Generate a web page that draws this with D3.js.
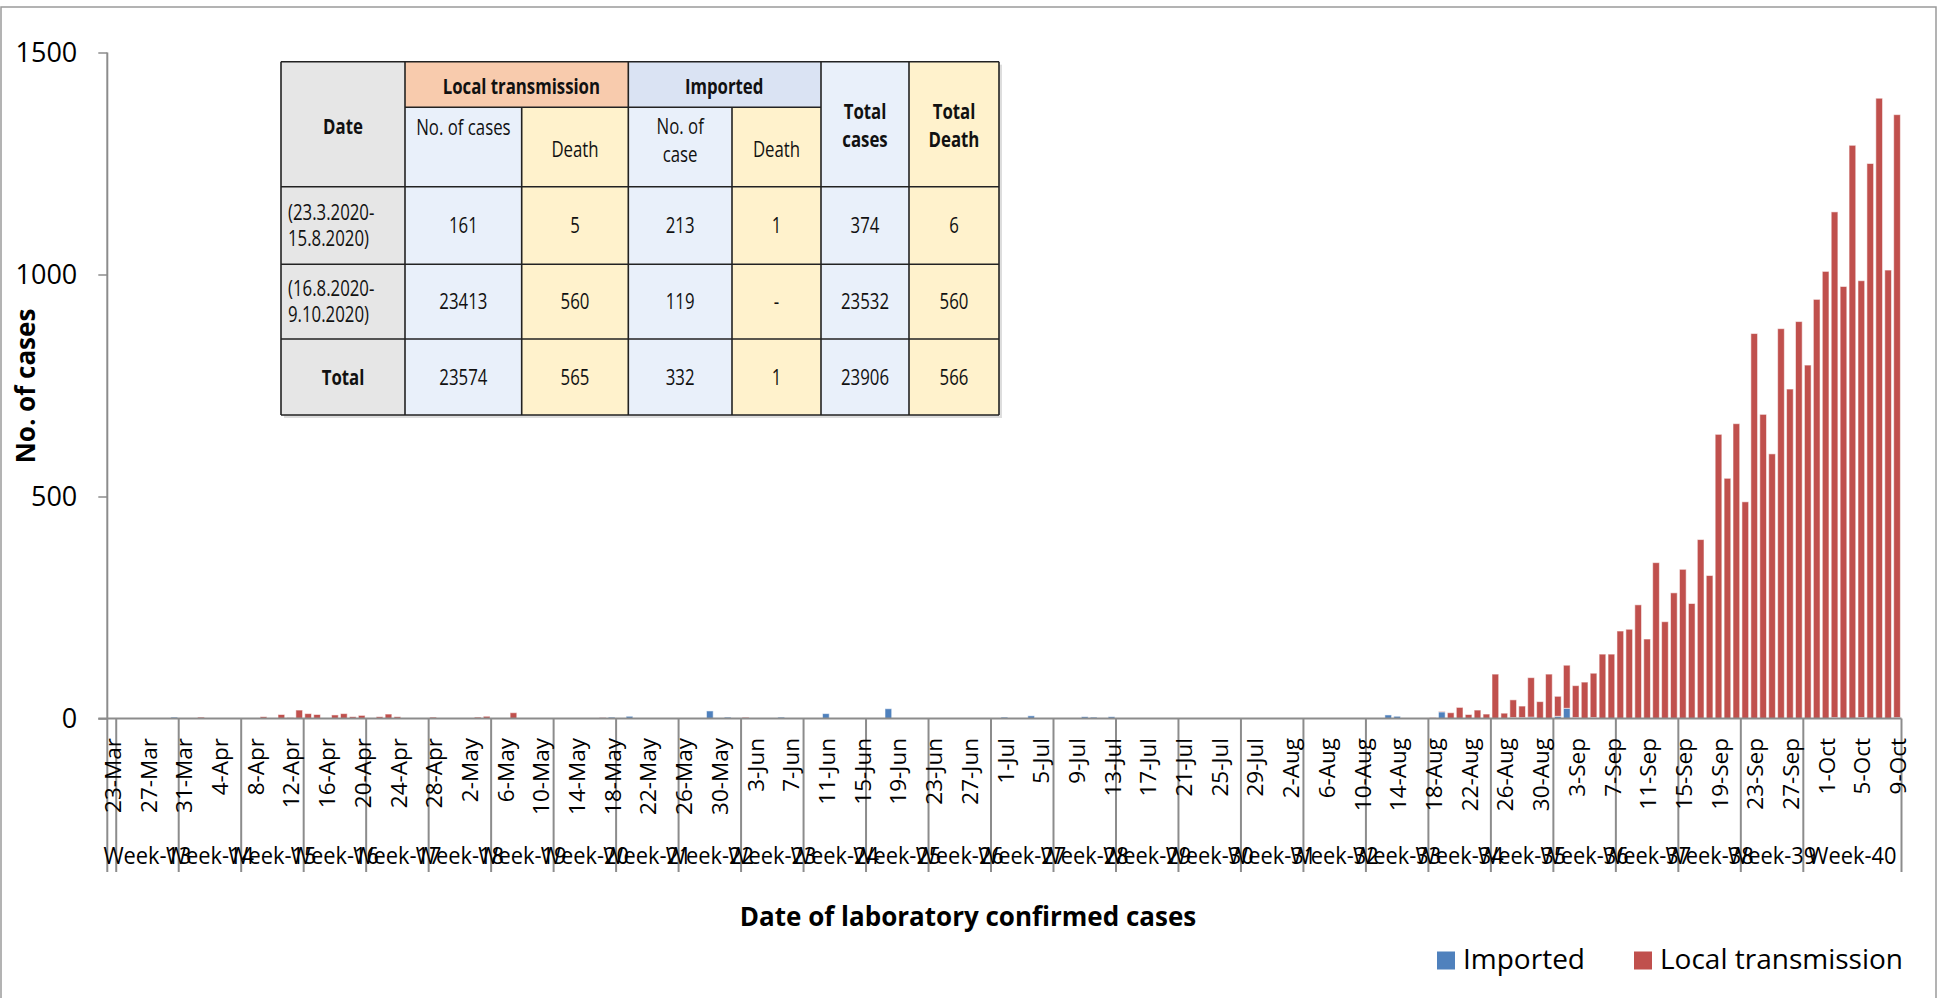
<!DOCTYPE html>
<html>
<head>
<meta charset="utf-8">
<script src="https://cdnjs.cloudflare.com/ajax/libs/d3/7.8.5/d3.min.js"></script>
<style>
  html, body { margin: 0; padding: 0; background: #fff; }
  svg { display: block; }
  .tbl text { font-family: 'Open Sans', 'Liberation Sans', sans-serif; font-size: 21px; fill: #111; }
</style>
</head>
<body>
<svg id="chart" width="1940" height="998"></svg>
<script>
// ---- data ----
const startDay = new Date(2020, 2, 23);   // 23-Mar-2020
const endDay = new Date(2020, 9, 10);     // exclusive: last bar 9-Oct
const days = d3.timeDay.range(startDay, endDay);

// week groups on the outer axis level (first group is a lone 23-Mar)
const weekLabels = ['', 'Week-13', 'Week-14', 'Week-15', 'Week-16', 'Week-17', 'Week-18', 'Week-19',
  'Week-20', 'Week-21', 'Week-22', 'Week-23', 'Week-24', 'Week-25', 'Week-26', 'Week-27',
  'Week-28', 'Week-29', 'Week-30', 'Week-31', 'Week-32', 'Week-33', 'Week-34', 'Week-35',
  'Week-36', 'Week-37', 'Week-38', 'Week-39', 'Week-40'];
const weekLengths = [1, 7, 7, 7, 7, 7, 7, 7, 7, 7, 7, 7, 7, 7, 7, 7, 7, 7, 7, 7, 7, 7, 7, 7, 7, 7, 7, 7, 11];

// daily cases, one value per day from 23-Mar to 9-Oct
const imported = [
  0, 0, 0, 1, 0, 0, 1, 3, 0, 0,      // 23-Mar .. 1-Apr
  0, 0, 0, 0, 0, 0, 0, 0, 0, 0,
  0, 0, 0, 0, 0, 0, 0, 0, 0, 0,
  0, 0, 0, 0, 0, 0, 0, 0, 0, 0,
  0, 0, 0, 0, 0, 0, 0, 0, 0, 0,      // .. 11-May
  0, 0, 0, 0, 0, 2, 3, 0, 5, 0,
  1, 0, 0, 1, 1, 0, 0, 17, 0, 3,
  0, 1, 0, 1, 0, 3, 1, 0, 0, 1,
  11, 0, 0, 0, 0, 0, 0, 22, 0, 0,
  1, 0, 0, 0, 0, 0, 1, 1, 0, 0,      // .. 30-Jun
  3, 0, 0, 6, 0, 1, 0, 1, 1, 4,
  3, 0, 4, 0, 0, 0, 0, 1, 0, 0,
  0, 1, 0, 1, 1, 0, 0, 0, 1, 0,
  0, 0, 0, 0, 0, 0, 1, 0, 0, 0,
  0, 0, 0, 8, 5, 0, 0, 0, 0, 15,     // .. 19-Aug
  0, 0, 0, 0, 0, 0, 0, 2, 2, 3,
  0, 0, 5, 23, 2, 0, 2, 0, 0, 0,
  0, 0, 0, 0, 0, 0, 0, 0, 0, 0,
  0, 0, 0, 0, 0, 0, 0, 0, 0, 0,
  0, 0, 0, 2, 0, 0, 2, 0, 0, 0,      // .. 8-Oct
  2
];
const local = [
  0, 0, 0, 0, 1, 0, 0, 0, 0, 0,
  3, 0, 0, 0, 0, 0, 0, 4, 0, 9,
  2, 19, 11, 9, 0, 8, 11, 4, 7, 1,
  4, 10, 4, 1, 0, 0, 3, 0, 0, 0,
  0, 3, 5, 0, 0, 13, 0, 0, 1, 0,
  0, 0, 0, 0, 0, 1, 0, 0, 0, 0,
  0, 0, 0, 0, 0, 0, 0, 0, 0, 0,
  0, 2, 0, 0, 0, 0, 0, 0, 1, 0,
  0, 0, 0, 0, 0, 0, 0, 0, 0, 0,
  0, 0, 0, 0, 0, 0, 0, 0, 0, 0,
  0, 0, 0, 0, 0, 0, 0, 0, 0, 0,
  0, 0, 0, 0, 0, 1, 0, 0, 0, 0,
  0, 0, 0, 0, 0, 0, 0, 0, 0, 0,
  0, 0, 0, 1, 0, 0, 0, 0, 0, 0,
  0, 0, 0, 0, 0, 0, 0, 0, 2, 1,
  13, 25, 9, 19, 10, 100, 12, 40, 26, 89,
  38, 100, 45, 97, 72, 82, 100, 145, 145, 197,
  201, 256, 179, 351, 218, 283, 336, 259, 403, 322,
  640, 541, 664, 488, 867, 685, 596, 878, 742, 894,
  796, 944, 1007, 1139, 973, 1291, 984, 1250, 1397, 1010,
  1358
];
const yTicks = [0, 500, 1000, 1500];

// summary table
const tableRows = [
  ['(23.3.2020-|15.8.2020)', '161', '5', '213', '1', '374', '6'],
  ['(16.8.2020-|9.10.2020)', '23413', '560', '119', '-', '23532', '560'],
  ['Total', '23574', '565', '332', '1', '23906', '566']
];

const seriesKeys = ['imported', 'local'];
const seriesNames = { imported: 'Imported', local: 'Local transmission' };
const colors = { imported: '#4f81bd', local: '#c0504d' };

// ---- layout ----
const X0 = 107.3, X1 = 1901.5, Y0 = 718.5, Y1 = 52.5;
const AXIS_GREY = '#8c8c8c';
const FONT = "'Open Sans', 'Liberation Sans', sans-serif";

const svg = d3.select('#chart');

// outer frame
svg.append('rect')
  .attr('x', 1).attr('y', 7).attr('width', 1935).attr('height', 1000)
  .attr('fill', 'none').attr('stroke', '#9a9a9a').attr('stroke-width', 1.5);

const rows = days.map((d, i) => ({ date: d, imported: imported[i], local: local[i] }));

const x = d3.scaleBand().domain(d3.range(days.length)).range([X0, X1])
  .paddingInner(0.25).paddingOuter(0.125);
const y = d3.scaleLinear().domain([0, 1500]).range([Y0, Y1]);

// bars
const stacked = d3.stack().keys(seriesKeys)(rows);
svg.append('g').selectAll('g').data(stacked).join('g')
  .attr('fill', s => colors[s.key])
  .selectAll('rect').data(s => s.map((v, i) => ({ v, i }))).join('rect')
  .filter(d => d.v[1] > d.v[0])
  .attr('x', d => x(d.i))
  .attr('width', x.bandwidth())
  .attr('y', d => y(d.v[1]))
  .attr('height', d => y(d.v[0]) - y(d.v[1]))
  .attr('stroke', 'rgba(255,255,255,0.55)')
  .attr('stroke-width', 1);

// y axis
const yAxis = svg.append('g').attr('transform', `translate(${X0},0)`)
  .call(d3.axisLeft(y).tickValues(yTicks).tickSize(9).tickPadding(21).tickFormat(d3.format('d')));
yAxis.select('.domain').remove();
yAxis.selectAll('.tick line').attr('stroke', AXIS_GREY).attr('stroke-width', 1.5);
yAxis.selectAll('.tick text').attr('font-family', FONT).attr('font-size', 27).attr('fill', '#000');
svg.append('line').attr('x1', X0).attr('x2', X0).attr('y1', Y1).attr('y2', Y0)
  .attr('stroke', AXIS_GREY).attr('stroke-width', 2);

// x axis line
svg.append('line').attr('x1', X0 - 9).attr('x2', X1).attr('y1', Y0).attr('y2', Y0)
  .attr('stroke', AXIS_GREY).attr('stroke-width', 2);

// week group separators and labels
const step = x.step();
const starts = [0];
weekLengths.forEach((n, i) => starts.push(starts[i] + n));
const bx = k => X0 + k * step;   // category boundary position
svg.append('g').selectAll('line').data(starts).join('line')
  .attr('x1', d => bx(d)).attr('x2', d => bx(d))
  .attr('y1', Y0).attr('y2', 872)
  .attr('stroke', AXIS_GREY).attr('stroke-width', 2);

svg.append('g').selectAll('text').data(weekLabels).join('text')
  .attr('transform', (d, i) => `translate(${(bx(starts[i]) + bx(starts[i + 1])) / 2},864) scale(0.91,1)`)
  .attr('text-anchor', 'middle')
  .attr('font-family', FONT).attr('font-size', 24).attr('fill', '#000')
  .text(d => d);

// date labels every 4th day
const fmt = d3.timeFormat('%-d-%b');
svg.append('g').selectAll('text')
  .data(days.map((d, i) => ({ d, i })).filter(o => o.i % 4 === 0)).join('text')
  .attr('transform', o => `translate(${x(o.i) + x.bandwidth() / 2 + 1},738) rotate(-90)`)
  .attr('text-anchor', 'end')
  .attr('dy', '0.36em')
  .attr('font-family', FONT).attr('font-size', 22.5).attr('fill', '#000')
  .text(o => fmt(o.d));

// axis titles
svg.append('text')
  .attr('x', 968).attr('y', 926)
  .attr('text-anchor', 'middle')
  .attr('font-family', FONT).attr('font-size', 26).attr('font-weight', 700)
  .text('Date of laboratory confirmed cases');
svg.append('text')
  .attr('transform', 'translate(35,386) rotate(-90)')
  .attr('text-anchor', 'middle')
  .attr('font-family', FONT).attr('font-size', 26).attr('font-weight', 700)
  .text('No. of cases');

// legend
const legend = svg.append('g').selectAll('g').data(seriesKeys).join('g')
  .attr('transform', (d, i) => `translate(${[1437, 1634][i]},951.5)`);
legend.append('rect').attr('width', 18).attr('height', 18).attr('fill', d => colors[d]);
legend.append('text').attr('x', 26).attr('y', 17.5)
  .attr('font-family', FONT).attr('font-size', 28).attr('fill', '#000')
  .text(d => seriesNames[d]);

// ---- summary table ----
const colX = [281, 405, 521.7, 628.3, 732, 821, 909, 999];
const rowY = [61.7, 107.3, 186.7, 264.3, 339, 415];
const BLUE_CELL = '#e9f0fa', YEL_CELL = '#fff2cc', GREY_CELL = '#e6e6e6';
const colFill = [GREY_CELL, BLUE_CELL, YEL_CELL, BLUE_CELL, YEL_CELL, BLUE_CELL, YEL_CELL];

const tbl = svg.append('g').attr('class', 'tbl');
tbl.append('rect')
  .attr('x', colX[0] + 3).attr('y', rowY[0] + 3)
  .attr('width', colX[7] - colX[0]).attr('height', rowY[5] - rowY[0])
  .attr('fill', '#bbb').attr('opacity', 0.5);

// body columns
colFill.forEach((f, c) => {
  tbl.append('rect').attr('x', colX[c]).attr('y', rowY[0])
    .attr('width', colX[c + 1] - colX[c]).attr('height', rowY[5] - rowY[0]).attr('fill', f);
});
// group headers
tbl.append('rect').attr('x', colX[1]).attr('y', rowY[0]).attr('width', colX[3] - colX[1])
  .attr('height', rowY[1] - rowY[0]).attr('fill', '#f8cbad');
tbl.append('rect').attr('x', colX[3]).attr('y', rowY[0]).attr('width', colX[5] - colX[3])
  .attr('height', rowY[1] - rowY[0]).attr('fill', '#dae3f3');

const border = (x1, y1, x2, y2) => tbl.append('line')
  .attr('x1', x1).attr('y1', y1).attr('x2', x2).attr('y2', y2)
  .attr('stroke', '#222').attr('stroke-width', 1.6);
colX.forEach((cx, i) => {
  if (i === 2 || i === 4) border(cx, rowY[1], cx, rowY[5]);
  else border(cx, rowY[0], cx, rowY[5]);
});
rowY.forEach((ry, i) => {
  if (i === 1) border(colX[1], ry, colX[5], ry);
  else border(colX[0], ry, colX[7], ry);
});

// table text is horizontally condensed like the original's narrow font
const cellText = (cx, cy, str, bold, anchor) => tbl.append('text')
  .attr('transform', `translate(${cx},${cy}) scale(0.8,1)`)
  .attr('dy', '0.36em')
  .attr('text-anchor', anchor || 'middle')
  .attr('font-weight', bold ? 700 : 400)
  .text(str);
const mid = c => (colX[c] + colX[c + 1]) / 2;

cellText(mid(0), 126, 'Date', true);
cellText(mid(1) + 58, 86, 'Local transmission', true);
cellText(mid(3) + 44, 86, 'Imported', true);
cellText(mid(5), 111, 'Total', true);
cellText(mid(5), 139, 'cases', true);
cellText(mid(6), 111, 'Total', true);
cellText(mid(6), 139, 'Death', true);
cellText(mid(1), 127, 'No. of cases');
cellText(mid(2), 149.5, 'Death');
cellText(mid(3), 126, 'No. of');
cellText(mid(3), 154, 'case');
cellText(mid(4), 149.5, 'Death');

tableRows.forEach((r, ri) => {
  const top = rowY[ri + 2], bot = rowY[ri + 3];
  const cy = (top + bot) / 2;
  if (r[0].includes('|')) {
    const parts = r[0].split('|');
    cellText(colX[0] + 7, cy - 13, parts[0], false, 'start');
    cellText(colX[0] + 7, cy + 13, parts[1], false, 'start');
  } else {
    cellText(mid(0), cy, r[0], true);
  }
  r.slice(1).forEach((v, c) => cellText(mid(c + 1), cy, v));
});
</script>
</body>
</html>
